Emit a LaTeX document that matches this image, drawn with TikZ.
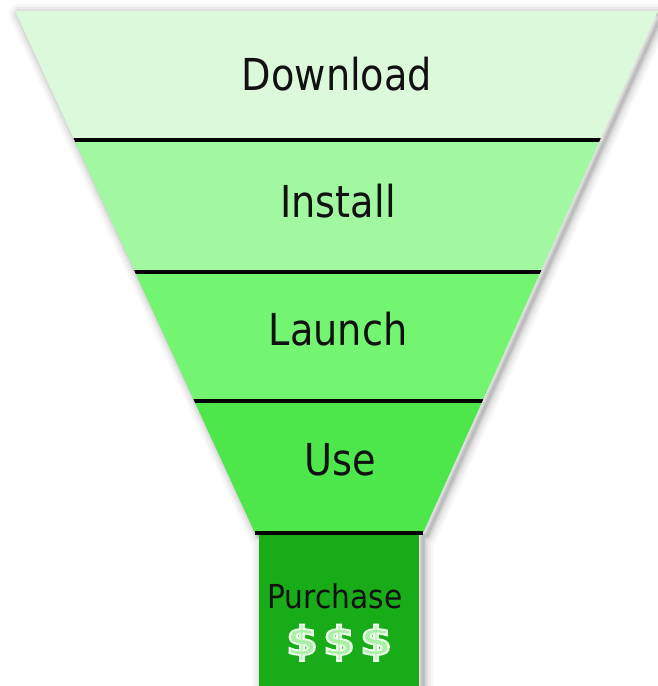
\documentclass[tikz,border=0pt]{standalone}
\usepackage{fontspec}
\setmainfont{DejaVu Sans}[FakeStretch=0.87]
\newfontfamily\buyfont{DejaVu Sans}[FakeStretch=0.9]

\definecolor{bandA}{HTML}{DCF9DB}
\definecolor{bandB}{HTML}{A2F8A0}
\definecolor{bandC}{HTML}{74F571}
\definecolor{bandD}{HTML}{4DE64B}
\definecolor{buybox}{HTML}{18AC18}
\definecolor{ink}{HTML}{111111}
\definecolor{cashfill}{HTML}{A8F0A2}

% glyphs drawn filled and then outlined (text render mode 2)
\newcommand{\outlined}[2]{%
  \special{pdf:literal direct #1 2 Tr}#2\special{pdf:literal direct 0 Tr}}

\tikzset{
  shadowline/.style={draw=black, line join=round},
  divider/.style={draw=black, line width=3.5},
  stage/.style={anchor=base, inner sep=0pt, text=ink,
    font=\fontsize{44}{50}\selectfont},
  buylabel/.style={anchor=base, inner sep=0pt, text=ink,
    font=\buyfont\fontsize{33}{36}\selectfont},
  cash/.style={anchor=base, inner sep=0pt, text=cashfill,
    font=\bfseries\fontsize{40}{44}\selectfont},
}

\begin{document}
\begin{tikzpicture}[x=1pt, y=-1pt]
  \fill[white] (0,0) rectangle (657,686);
  \useasboundingbox (0,0) rectangle (657,686);

  % soft shadow around the funnel and its spout
  \foreach \w/\o in {20/0.03, 15/0.04, 10/0.05, 6/0.07, 3/0.09}{
    \draw[shadowline, line width=\w, opacity=\o, shift={(4,3)}]
      (15,11) -- (658,11) -- (423,533) -- (419,533) -- (419,700)
      -- (259,700) -- (259,533) -- (255,533) -- cycle;
  }

  % funnel bands
  \begin{scope}
    \clip (15,11) -- (658,11) -- (423,533) -- (255,533) -- cycle;
    \fill[bandA] (0,0)   rectangle (660,140);
    \fill[bandB] (0,140) rectangle (660,272);
    \fill[bandC] (0,272) rectangle (660,401);
    \fill[bandD] (0,401) rectangle (660,540);
    \draw[divider] (0,140) -- (660,140);
    \draw[divider] (0,272) -- (660,272);
    \draw[divider] (0,401) -- (660,401);
  \end{scope}

  % spout
  \fill[buybox] (259,533) rectangle (419,686);
  \draw[divider] (255,533) -- (423,533);

  % stage labels
  \node[stage] (download) at (337,90)  {Download};
  \node[stage] (install)  at (338,217) {Install};
  \node[stage] (launch)   at (338,345) {Launch};
  \node[stage] (use)      at (340,475) {Use};
  \node[buylabel] (purchase) at (335,608) {Purchase};

  % dollar signs
  \node[cash] (cashA) at (302,655) {\scalebox{1.3}[1]{\outlined{0.93 1 0.93 RG 1.8 w}{\$}}};
  \node[cash] (cashB) at (339,655) {\scalebox{1.3}[1]{\outlined{0.93 1 0.93 RG 1.8 w}{\$}}};
  \node[cash] (cashC) at (376,655) {\scalebox{1.3}[1]{\outlined{0.93 1 0.93 RG 1.8 w}{\$}}};
\end{tikzpicture}
\end{document}
